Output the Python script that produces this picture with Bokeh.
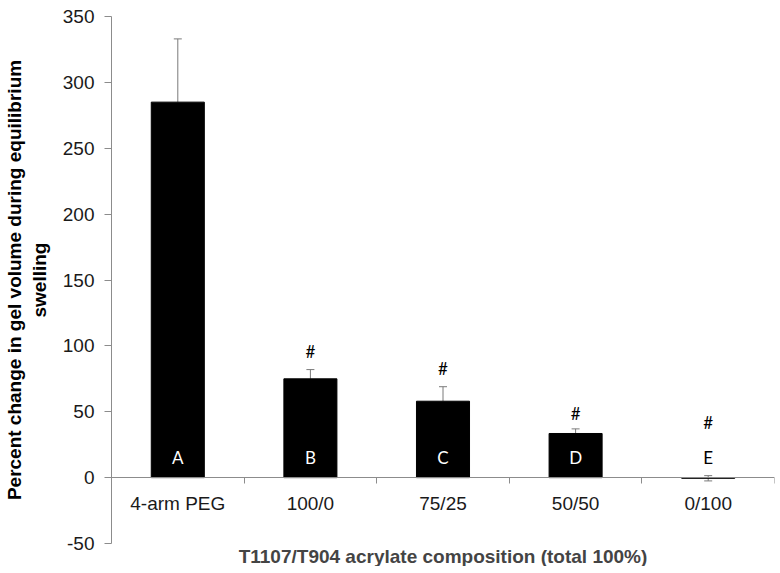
from bokeh.plotting import figure
from bokeh.models import (ColumnDataSource, Range1d, LinearAxis, FixedTicker,
                          Whisker, TeeHead, Title)
from bokeh.core.properties import value
from bokeh.embed import file_html
from bokeh.resources import INLINE

# ---- data ----
categories = ["4-arm PEG", "100/0", "75/25", "50/50", "0/100"]
means = [285, 75, 58, 33.5, -0.5]
err_plus = [48, 7, 11, 3.5, 2]
err_minus = [0, 0, 0, 0, 2]
letters = ["A", "B", "C", "D", "E"]
hash_marks = ["", "#", "#", "#", "#"]
hash_y = [None, 96, 83, 49, 42]
y_ticks = [-50, 0, 50, 100, 150, 200, 250, 300, 350]

xs = [i + 0.5 for i in range(len(categories))]
n = len(categories)

p = figure(frame_width=663, frame_height=527, output_backend="svg",
           toolbar_location=None, x_range=Range1d(0, n), y_range=Range1d(-50, 350),
           min_border_left=107, min_border_top=16, min_border_right=2, min_border_bottom=0,
           x_axis_type=None)
p.outline_line_color = None
p.xgrid.visible = False
p.ygrid.visible = False
p.background_fill_color = "white"

axis_gray = "#8c8c8c"

# y axis
ya = p.yaxis[0]
ya.ticker = FixedTicker(ticks=y_ticks)
ya.major_label_overrides = {t: str(t) for t in y_ticks}
ya.axis_line_color = axis_gray
ya.major_tick_line_color = axis_gray
ya.major_tick_out = 7
ya.major_tick_in = 0
ya.minor_tick_line_color = None
ya.major_label_text_font = "Liberation Sans"
ya.major_label_text_font_size = "19px"
ya.major_label_text_color = "#1a1a1a"
ya.major_label_standoff = 10
ya.axis_label = "Percent change in gel volume during equilibrium\nswelling"
ya.axis_label_text_font = "Liberation Sans"
ya.axis_label_text_font_size = "19px"
ya.axis_label_text_font_style = "bold"
ya.axis_label_text_color = "black"
ya.axis_label_standoff = 10

# x axis line at y=0 with ticks at category boundaries
xa = LinearAxis(fixed_location=0, ticker=FixedTicker(ticks=list(range(1, n + 1))))
xa.axis_line_color = axis_gray
xa.major_tick_line_color = axis_gray
xa.major_tick_out = 6
xa.major_tick_in = 0
xa.minor_tick_line_color = None
xa.major_label_text_font_size = "0px"
xa.major_label_text_color = None
p.add_layout(xa, "below")

# category labels
xl = LinearAxis(fixed_location=0, ticker=FixedTicker(ticks=xs),
                major_label_overrides={x: c for x, c in zip(xs, categories)})
xl.axis_line_color = None
xl.major_tick_line_color = None
xl.minor_tick_line_color = None
xl.major_label_text_font = "Liberation Sans"
xl.major_label_text_font_size = "19px"
xl.major_label_text_color = "#1a1a1a"
xl.major_label_standoff = 9
p.add_layout(xl, "below")

p.add_layout(Title(text="T1107/T904 acrylate composition (total 100%)", align="center",
                   text_font="Liberation Sans", text_font_size="19px",
                   text_font_style="bold", standoff=0), "below")

src = ColumnDataSource(dict(
    x=xs, top=means,
    up=[m + e for m, e in zip(means, err_plus)],
    lo=[m - e for m, e in zip(means, err_minus)],
    letter=letters,
    lcolor=["white" if m > 10 else "black" for m in means],
))

p.vbar(x="x", top="top", bottom=0, width=0.4, source=src,
       fill_color="black", line_color="black")

err_color = "#7a7a7a"
p.add_layout(Whisker(source=src, base="x", upper="up", lower="top",
                     line_color=err_color, line_width=1,
                     upper_head=TeeHead(size=8, line_color=err_color, line_width=1),
                     lower_head=None))
lo_idx = [i for i in range(n) if err_minus[i] > 0]
src_lo = ColumnDataSource(dict(x=[xs[i] for i in lo_idx], top=[means[i] for i in lo_idx],
                               lo=[means[i] - err_minus[i] for i in lo_idx]))
p.add_layout(Whisker(source=src_lo, base="x", upper="top", lower="lo",
                     line_color=err_color, line_width=1,
                     lower_head=TeeHead(size=8, line_color=err_color, line_width=1),
                     upper_head=None))

p.text(x="x", y=15, text="letter", source=src, text_color="lcolor",
       text_font=value("Lato"), text_font_size="17px",
       text_align="center", text_baseline="middle")

hx = [xs[i] for i in range(n) if hash_y[i] is not None]
hy = [h for h in hash_y if h is not None]
ht = [hash_marks[i] for i in range(n) if hash_y[i] is not None]
p.text(x=hx, y=hy, text=ht, text_color="black",
       text_font=value("Lato"), text_font_size="17px",
       text_align="center", text_baseline="middle")

open("out.html", "w").write(file_html(p, INLINE))
